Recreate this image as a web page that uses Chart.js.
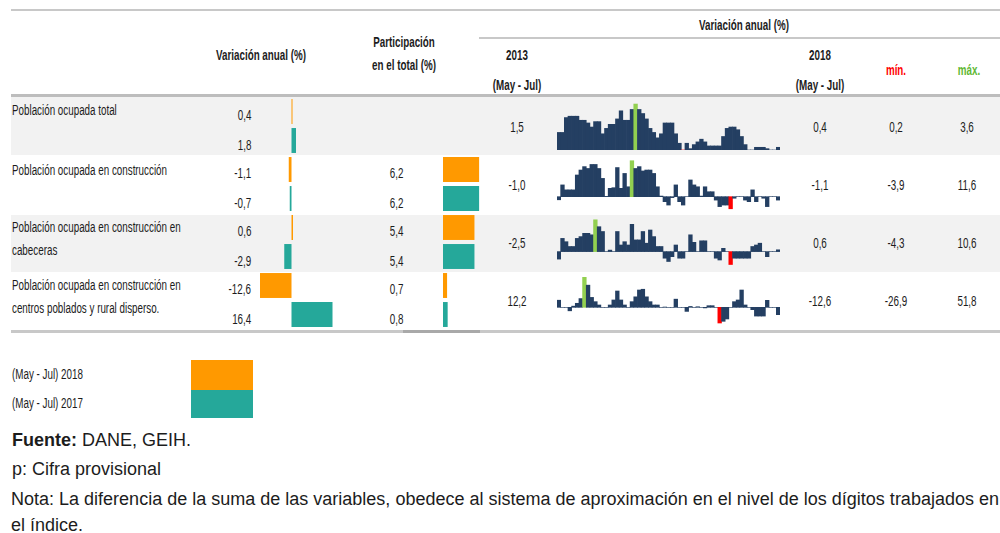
<!DOCTYPE html>
<html>
<head>
<meta charset="utf-8">
<script src="https://cdn.jsdelivr.net/npm/chart.js@4.4.1/dist/chart.umd.min.js"></script>
<style>
  body { margin: 0; width: 1000px; height: 533px; overflow: hidden; position: relative; background: #fff;
         font-family: "Liberation Sans Narrow", "Liberation Sans", Arial, sans-serif; color: #1c1c1c; }
  .bg { position: absolute; background: #f2f2f2; }
  .line { position: absolute; background: #c8c8c8; }
  .t { position: absolute; white-space: nowrap; font-size: 14px; line-height: 16px; }
  .b { font-weight: bold; }
  .foot { font-family: "Liberation Sans", Arial, sans-serif; font-size: 18px; line-height: 20px; }
  canvas { position: absolute; }
</style>
</head>
<body>
<script>
const rowLabels = [
  ["Población ocupada total"],
  ["Población ocupada en construcción"],
  ["Población ocupada en construcción en", "cabeceras"],
  ["Población ocupada en construcción en", "centros poblados y rural disperso."]
];
const variacion2018 = [0.4, -1.1, 0.6, -12.6];
const variacion2017 = [1.8, -0.7, -2.9, 16.4];
const participacion2018 = [null, 6.2, 5.4, 0.7];
const participacion2017 = [null, 6.2, 5.4, 0.8];

// variación anual, trimestres móviles may-jul 2013 ... may-jul 2018
const serieTotal = [1.5, 1.5, 2.6, 2.7, 2.7, 2.7, 2.4, 2.4, 2.2, 1.9,
  2.3, 2.3, 1.4, 1.8, 2.1, 2.1, 2.5, 3.1, 2.4, 2.4,
  3.2, 3.6, 3.2, 2.9, 2.5, 1.8, 1.5, 1.1, 1.4, 2.2,
  2.2, 2.2, 1.4, 0.7, 0.2, 0.7, 0.3, 0.6, 0.8, 1.0,
  0.8, 0.5, 0.5, 0.5, 0.5, 1.2, 1.8, 1.9, 1.9, 1.7,
  1.2, 0.6, 0.2, 0.2, 0.4, 0.4, 0.4, 0.3, 0.2, 0.2, 0.4];
const serieConstruccion = [-1.0, 3.8, 2.2, 2.2, 2.2, 7.0, 8.6, 9.7, 9.1, 10.4,
  10.4, 9.1, 5.9, 0.1, 2.7, 2.9, 9.4, 2.7, 7.5, 3.2,
  11.6, 9.1, 9.7, 8.3, 8.6, 8.6, 7.5, 3.2, 0.2, -1.6,
  -2.7, -0.3, 3.8, -1.6, -2.7, 0.0, 5.4, 3.8, 3.2, 0.2,
  3.2, 1.6, 1.6, -1.1, -3.2, -2.7, -2.7, -3.9, -0.5, 0.0,
  0.0, -1.1, -1.6, 2.2, -1.6, 0.0, -0.5, -3.2, 0.0, 0.0, -1.1];
const serieCabeceras = [-2.5, 4.4, 3.3, 1.7, 1.7, 4.4, 5.0, 6.1, 6.1, 5.6,
  10.6, 8.3, 6.7, 0.0, 0.5, 0.0, 6.7, 2.2, 3.3, 2.2,
  9.1, 3.9, 3.9, 6.7, 2.8, 7.2, 5.0, 1.7, 1.7, -2.2,
  -3.3, -1.7, 2.2, -2.2, -2.2, 0.0, 5.6, 3.1, 0.0, 3.6,
  3.6, 0.0, 0.0, -2.2, -2.8, 1.1, 0.0, -4.3, -2.2, -2.2,
  -2.2, -2.2, -2.2, 1.7, 2.2, 2.8, 0.0, -1.7, 0.0, 0.0, 0.6];
const serieCentros = [12.2, 0, 0, -6, 2, 6.9, 15, 51.8, 38, 17,
  9.7, 4, 0, 0, 4, 12.6, 28, 12.6, 4, 0,
  9.7, 18, 29.7, 31, 18, 9.7, 4, 4, 0, 0.5,
  0, 0, 14, 0, 0, -7, 1.5, 0, 1, 0,
  -1, 2.8, 2.8, 0, -26.9, -24, -20, 0, 9.7, 12.6,
  29.7, 4, 0, -4, -15, -15, -15, 12, 0, 0, -12.6];

const meses = ["Ene", "Feb", "Mar", "Abr", "May", "Jun", "Jul", "Ago", "Sep", "Oct", "Nov", "Dic"];
const periodos = serieTotal.map((_, i) => {
  const m = 4 + i;
  return meses[m % 12] + " - " + meses[(m + 2) % 12] + " " + (2013 + Math.floor((m + 2) / 12));
});

const ORANGE = "#ff9900", TEAL = "#25a89a", NAVY = "#243f62", GREEN = "#92d050", RED = "#ff0000";

// horizontal squeeze of the narrow table text
const mctx = document.createElement("canvas").getContext("2d");
mctx.font = '14px "Liberation Sans Narrow", "Liberation Sans", Arial, sans-serif';
const K = 155 / mctx.measureText("Población ocupada en construcción").width;
mctx.font = '18px "Liberation Sans", Arial, sans-serif';
const NOTA = "Nota: La diferencia de la suma de las variables, obedece al sistema de aproximación en el nivel de los dígitos trabajados en";
const K2 = 988 / mctx.measureText(NOTA).width;

function box(cls, x, y, w, h, color) {
  const d = document.createElement("div");
  d.className = cls;
  Object.assign(d.style, { left: x + "px", top: y + "px", width: w + "px", height: h + "px" });
  if (color) d.style.background = color;
  document.body.appendChild(d);
}

function txt(s, x, y, align, opts = {}) {
  const d = document.createElement("div");
  d.className = "t" + (opts.bold ? " b" : "") + (opts.foot ? " foot" : "");
  if (opts.html) d.innerHTML = s; else d.textContent = s;
  if (opts.color) d.style.color = opts.color;
  const k = opts.foot ? K2 : K;
  d.style.top = y + "px";
  if (align === "left") {
    d.style.left = x + "px";
    d.style.transformOrigin = "0 50%";
    d.style.transform = `translateY(-50%) scaleX(${k})`;
  } else if (align === "right") {
    d.style.right = (1000 - x) + "px";
    d.style.transformOrigin = "100% 50%";
    d.style.transform = `translateY(-50%) scaleX(${k})`;
  } else {
    d.style.left = x + "px";
    d.style.transform = `translate(-50%, -50%) scaleX(${k})`;
  }
  document.body.appendChild(d);
}

function fmt(v) { return v.toFixed(1).replace(".", ","); }

function canvasAt(x, y, w, h) {
  const c = document.createElement("canvas");
  c.width = w; c.height = h;
  Object.assign(c.style, { left: x + "px", top: y + "px", width: w + "px", height: h + "px" });
  document.body.appendChild(c);
  return c;
}

const baseOptions = {
  responsive: false,
  animation: false,
  events: [],
  layout: { padding: 0 },
  plugins: { legend: { display: false }, tooltip: { enabled: false } }
};

// backgrounds and rules
box("bg", 11, 97, 989, 58);
box("bg", 11, 215, 989, 57);
box("line", 11, 9, 989, 2);
box("line", 479, 37, 521, 2);
box("line", 11, 94, 989, 3, "#bdbdbd");
box("line", 11, 330, 989, 3);
box("line", 403, 330, 77, 3, "#a9a9a9");

// headers
txt("Variación anual (%)", 261, 55, "center", { bold: true });
txt("Participación", 404, 42, "center", { bold: true });
txt("en el total (%)", 404, 65, "center", { bold: true });
txt("Variación anual (%)", 744, 25, "center", { bold: true });
txt("2013", 517, 55, "center", { bold: true });
txt("(May - Jul)", 517, 85, "center", { bold: true });
txt("2018", 820, 55, "center", { bold: true });
txt("(May - Jul)", 820, 85, "center", { bold: true });
txt("mín.", 896, 70, "center", { bold: true, color: RED });
txt("máx.", 969, 70, "center", { bold: true, color: "#5fb832" });

// rows
const rowTop = [97, 155, 213, 271];
const labelY = [[110], [170], [227, 250], [285, 308]];
const series = [serieTotal, serieConstruccion, serieCabeceras, serieCentros];
rowLabels.forEach((lines, r) => {
  lines.forEach((l, j) => txt(l, 12, labelY[r][j], "left"));
  txt(fmt(variacion2018[r]), 251, rowTop[r] + 18, "right");
  txt(fmt(variacion2017[r]), 251, rowTop[r] + 48, "right");
  if (participacion2018[r] !== null) txt(fmt(participacion2018[r]), 403, rowTop[r] + 18, "right");
  if (participacion2017[r] !== null) txt(fmt(participacion2017[r]), 403, rowTop[r] + 48, "right");
  const s = series[r];
  txt(fmt(s[0]), 517, rowTop[r] + 30, "center");
  txt(fmt(s[s.length - 1]), 820, rowTop[r] + 30, "center");
  txt(fmt(Math.min(...s)), 896, rowTop[r] + 30, "center");
  txt(fmt(Math.max(...s)), 967, rowTop[r] + 30, "center");
});

function hbar(x, w, min, max, d18, d17) {
  new Chart(canvasAt(x, 97, w, 232), {
    type: "bar",
    data: {
      labels: rowLabels.map((l) => l.join(" ")),
      datasets: [
        { label: "(May - Jul) 2018", data: d18, backgroundColor: ORANGE, barPercentage: 0.86, categoryPercentage: 1 },
        { label: "(May - Jul) 2017", data: d17, backgroundColor: TEAL, barPercentage: 0.86, categoryPercentage: 1 }
      ]
    },
    options: {
      ...baseOptions,
      indexAxis: "y",
      scales: { x: { display: false, min, max }, y: { display: false } }
    }
  });
}
hbar(200, 160, -36.6, 27.4, variacion2018, variacion2017);
hbar(443, 60, 0, 10.3, participacion2018, participacion2017);

function spark(data, top, h, min, max) {
  const maxI = data.indexOf(Math.max(...data));
  const minI = data.indexOf(Math.min(...data));
  new Chart(canvasAt(557, top, 223, h), {
    type: "bar",
    data: {
      labels: periodos,
      datasets: [{
        data,
        backgroundColor: data.map((v, i) => (i === maxI ? GREEN : i === minI ? RED : NAVY)),
        barPercentage: 1,
        categoryPercentage: 1
      }]
    },
    options: {
      ...baseOptions,
      scales: { x: { display: false }, y: { display: false, min, max } }
    }
  });
}
spark(serieTotal, 100, 50, 0.2, 3.9);
spark(serieConstruccion, 158, 54, -4.94, 12.48);
spark(serieCabeceras, 218, 54, -6.8, 11.2);
spark(serieCentros, 277, 53, -38.9, 52);

// legend
txt("(May - Jul) 2018", 12, 374, "left");
txt("(May - Jul) 2017", 12, 403, "left");
box("sw", 191, 360, 62, 30, ORANGE);
box("sw", 191, 390, 62, 28, TEAL);
document.querySelectorAll(".sw").forEach((d) => (d.style.position = "absolute"));

// footer
txt("<b>Fuente:</b> DANE, GEIH.", 12, 440, "left", { foot: true, html: true });
txt("p: Cifra provisional", 12, 469, "left", { foot: true });
txt(NOTA, 11, 499, "left", { foot: true });
txt("el índice.", 11, 525, "left", { foot: true });
</script>
</body>
</html>
